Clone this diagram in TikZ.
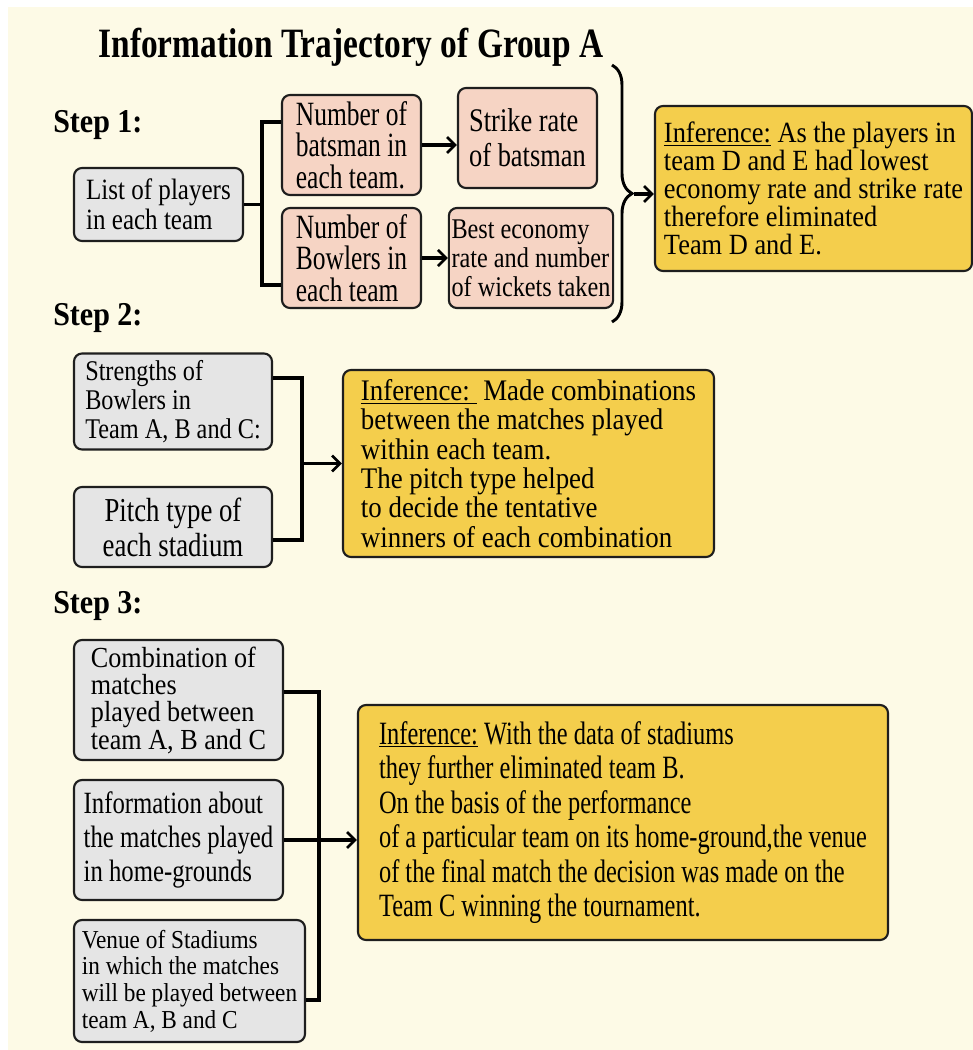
\documentclass[tikz,border=0pt]{standalone}
\usepackage{fontspec}
\setmainfont{Liberation Serif}
\newfontfamily\condA[FakeStretch=0.75]{Liberation Serif}
\newfontfamily\condB[FakeStretch=0.8]{Liberation Serif}
\newfontfamily\condC[FakeStretch=0.85]{Liberation Serif}
\newfontfamily\condD[FakeStretch=0.9]{Liberation Serif}
\usepackage{xcolor}
\usetikzlibrary{positioning, arrows.meta, decorations.pathreplacing}

\definecolor{creambg}{RGB}{253,250,230}
\definecolor{grayfill}{RGB}{229,229,229}
\definecolor{pinkfill}{RGB}{246,212,196}
\definecolor{inffill}{RGB}{244,206,76}
\definecolor{edgec}{RGB}{30,30,30}

\begin{document}
\begin{tikzpicture}[x=0.75pt,y=-0.75pt,
  box/.style={draw=edgec, line width=1.6pt, rounded corners=6pt, inner sep=2pt, align=left},
  graybox/.style={box, fill=grayfill},
  pinkbox/.style={box, fill=pinkfill},
  infbox/.style={box, fill=inffill},
  conn/.style={line width=2.6pt, line join=miter},
  arr/.style={conn, -{Straight Barb[length=6pt,width=12pt,line width=2pt]}},
  steplbl/.style={anchor=west, inner xsep=0pt, font=\condD\bfseries\fontsize{25pt}{25pt}\selectfont},
  ]
  \useasboundingbox (0,0) rectangle (973,1050);
  \fill[white] (0,0) rectangle (973,1050);
  \fill[creambg] (8,7) rectangle (973,1050);

  \node[font=\condB\bfseries\fontsize{31.3pt}{31.3pt}\selectfont] (title) at (351,47) {Information Trajectory of Group A};
  \node[steplbl] (step1) at (53,125) {Step 1:};
  \node[steplbl] (step2) at (53,318) {Step 2:};
  \node[steplbl] (step3) at (53,606) {Step 3:};

  % step 1
  \node[graybox, minimum width=126.75pt, minimum height=54.75pt,
    font=\condC\fontsize{22.1pt}{22.5pt}\selectfont] (players) at (158.5,204.5) {List of players\\in each team};
  \node[pinkbox, minimum width=104.25pt, minimum height=75pt,
    font=\condA\fontsize{25.5pt}{23.5pt}\selectfont] (nbat) at (351.5,145) {Number of\\batsman in\\each team.};
  \node[pinkbox, minimum width=104.25pt, minimum height=75pt,
    font=\condB\fontsize{24.75pt}{26.25pt}\selectfont] (strike) at (527.5,138) {Strike rate\\of batsman};
  \node[pinkbox, minimum width=104.25pt, minimum height=75pt,
    font=\condA\fontsize{25.5pt}{23.5pt}\selectfont] (nbowl) at (351.5,258) {Number of\\Bowlers in\\each team};
  \node[pinkbox, minimum width=123pt, minimum height=75pt,
    font=\condC\fontsize{21.4pt}{21.75pt}\selectfont] (econ) at (531,258) {Best economy\\rate and number\\of wickets taken};
  \node[infbox, minimum width=237.75pt, minimum height=123.75pt,
    font=\condD\fontsize{22pt}{21pt}\selectfont] (inf1) at (813.5,188.5)
    {\underline{Inference:} As the players in\\team D and E had lowest\\economy rate and strike rate\\therefore eliminated\\Team D and E.};

  \coordinate (j1a) at (262,122);
  \coordinate (j1b) at (262,285);
  \draw[conn] (players.east) -- (players.east -| j1a);
  \draw[conn] (j1a -| nbat.west) -- (j1a) -- (j1b) -- (j1b -| nbowl.west);
  \draw[arr] (nbat.east) -- (nbat.east -| strike.west);
  \draw[arr] (nbowl.east) -- (nbowl.east -| econ.west);
  \draw[line width=2.2pt, decorate, decoration={brace, amplitude=15pt}] (612,65) -- (612,322);
  \coordinate (tip) at (634,194);
  \draw[arr] (tip) -- (tip -| inf1.west);

  % step 2
  \node[graybox, minimum width=148.5pt, minimum height=72pt,
    font=\condC\fontsize{21.4pt}{22pt}\selectfont] (bowlstr) at (173,401.5) {Strengths of\\Bowlers in\\Team A, B and C:};
  \node[graybox, align=center, minimum width=148.5pt, minimum height=60pt,
    font=\condB\fontsize{25.1pt}{26.25pt}\selectfont] (pitch) at (173,527) {Pitch type of\\each stadium};
  \node[infbox, minimum width=278.25pt, minimum height=140.25pt,
    font=\condD\fontsize{22.4pt}{22pt}\selectfont] (inf2) at (528.5,463.5)
    {\underline{Inference:~}\ Made combinations\\between the matches played\\within each team.\\The pitch type helped\\to decide the tentative\\winners of each combination};

  \coordinate (j2a) at (302,378);
  \coordinate (j2b) at (302,540);
  \draw[conn] (j2a -| bowlstr.east) -- (j2a) -- (j2b) -- (j2b -| pitch.east);
  \draw[arr] (j2a |- inf2.west) -- (inf2.west);

  % step 3
  \node[graybox, minimum width=156.75pt, minimum height=90pt,
    font=\condD\fontsize{21.8pt}{20.5pt}\selectfont] (combo) at (178.5,700) {Combination of\\matches\\played between\\team A, B and C};
  \node[graybox, minimum width=156.75pt, minimum height=90pt,
    font=\condB\fontsize{23.2pt}{25.5pt}\selectfont] (homeinfo) at (178.5,840) {Information about\\the matches played\\in home-grounds};
  \node[graybox, minimum width=173.25pt, minimum height=91.5pt,
    font=\condD\fontsize{19.4pt}{20pt}\selectfont] (venue) at (189.5,981) {Venue of Stadiums\\in which the matches\\will be played between\\team A, B and C};
  \node[infbox, minimum width=397.5pt, minimum height=176.25pt,
    font=\condA\fontsize{24.4pt}{25.9pt}\selectfont] (inf3) at (623,822.5)
    {\underline{Inference:} With the data of stadiums\\they further eliminated team B.\\On the basis of the performance\\of a particular team on its home-ground,the venue\\of the final match the decision was made on the\\Team C winning the tournament.};

  \coordinate (j3a) at (319,692);
  \coordinate (j3b) at (319,1000);
  \draw[conn] (j3a -| combo.east) -- (j3a) -- (j3b) -- (j3b -| venue.east);
  \draw[arr] (homeinfo.east) -- (homeinfo.east -| inf3.west);
\end{tikzpicture}
\end{document}
